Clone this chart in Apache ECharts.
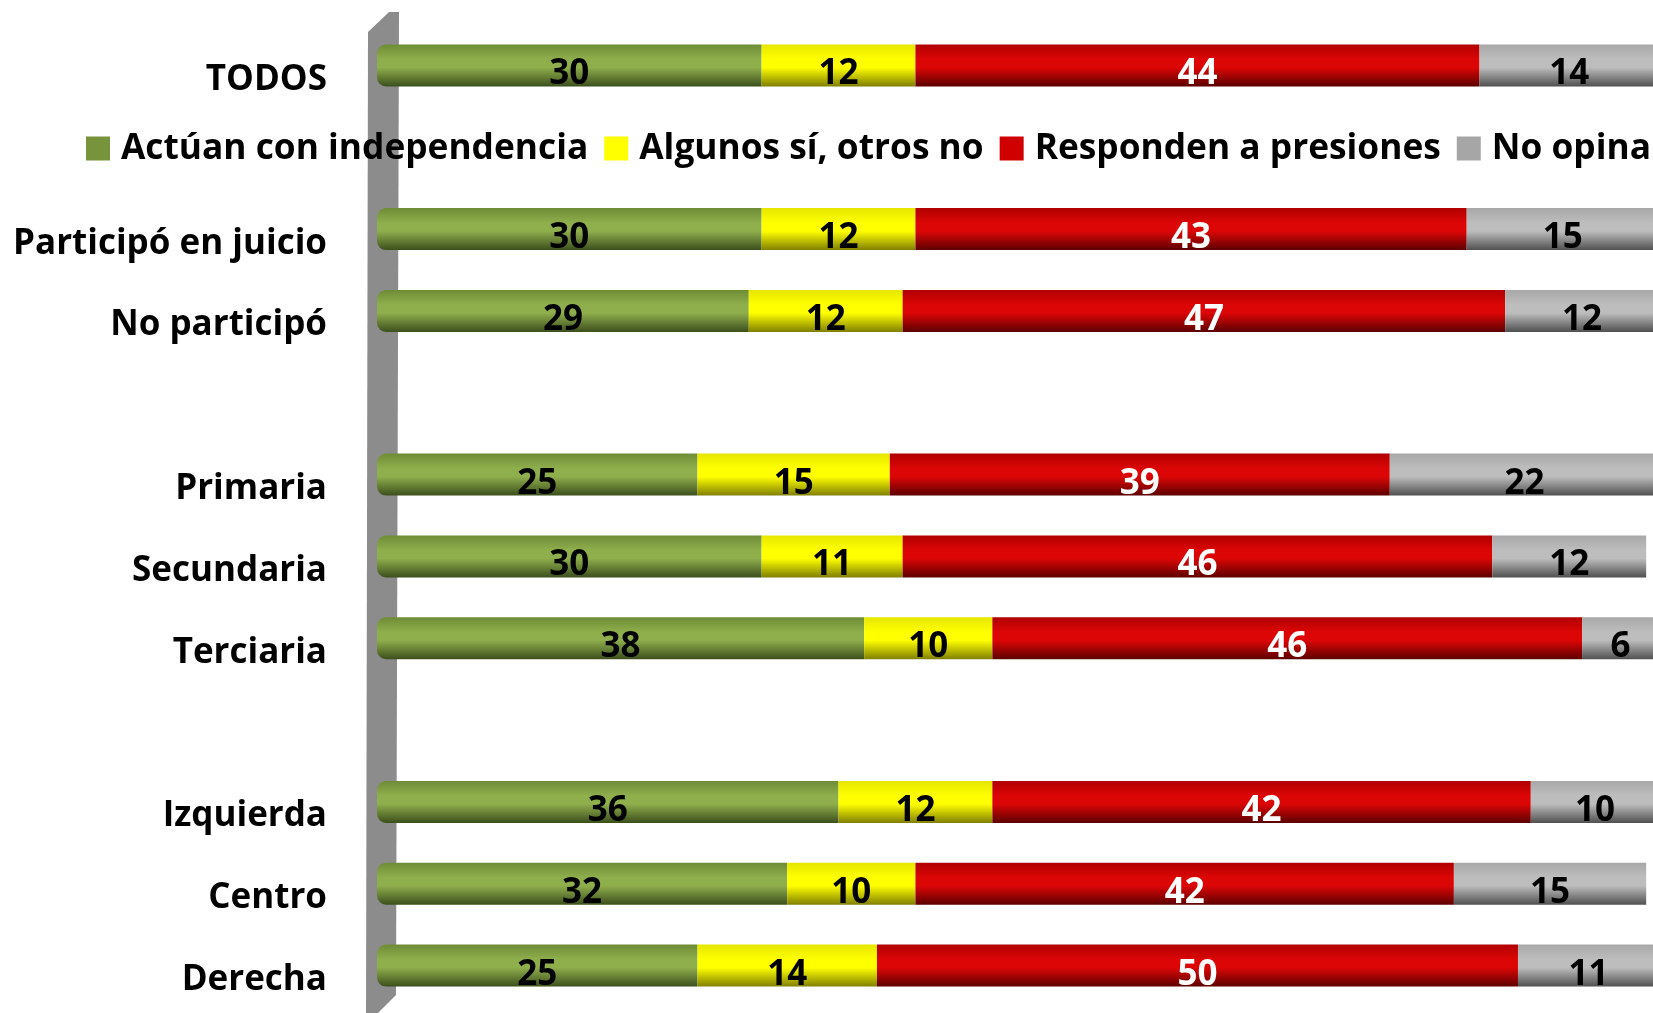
<!DOCTYPE html>
<html><head><meta charset="utf-8">
<script src="https://cdn.jsdelivr.net/npm/echarts@6/dist/echarts.min.js"></script>
<style>html,body{margin:0;padding:0;background:#fff}#c{width:1653px;height:1013px}</style>
</head><body><div id="c"></div>
<script>
const categories = ['TODOS','','Participó en juicio','No participó','','Primaria','Secundaria','Terciaria','','Izquierda','Centro','Derecha'];
const seriesNames = ['Actúan con independencia','Algunos sí, otros no','Responden a presiones','No opina'];
const independencia = [30,null,30,29,null,25,30,38,null,36,32,25];
const algunos       = [12,null,12,12,null,15,11,10,null,12,10,14];
const presiones     = [44,null,43,47,null,39,46,46,null,42,42,50];
const noOpina       = [14,null,15,12,null,22,12,6,null,10,15,11];

function grad(top, mid, bot){
  return new echarts.graphic.LinearGradient(0,0,0,1,[
    {offset:0,color:top},{offset:0.35,color:mid},{offset:0.55,color:mid},{offset:1,color:bot}]);
}
const styles = [
  {fill:grad('#6e8c36','#8fae4c','#3c4f1d'), legend:'#77933c', label:'#000'},
  {fill:grad('#e6e600','#ffff00','#808000'), legend:'#ffff00', label:'#000'},
  {fill:grad('#b00000','#dc0606','#5c0000'), legend:'#d00000', label:'#fff'},
  {fill:grad('#a8a8a8','#bdbdbd','#505050'), legend:'#a6a6a6', label:'#000'}
];
const dataSets = [independencia, algunos, presiones, noOpina];
const FONT = 'Open Sans';

const chart = echarts.init(document.getElementById('c'));
chart.setOption({
  animation:false,
  backgroundColor:'#fff',
  graphic:[{type:'polygon', z:-10, shape:{points:[[368,32],[389,12],[399,12],[396,995],[378,1013],[366,1013]]}, style:{fill:'#8c8c8c'}}],
  legend:{
    left:81, top:126, width:1640, itemWidth:24, itemHeight:24, itemGap:16,
    textStyle:{fontFamily:FONT, fontWeight:'bold', fontSize:35.3, color:'#000', padding:[0,0,0,6]},
    data: seriesNames.map((n,i)=>({name:n, icon:'rect', itemStyle:{color:styles[i].legend}}))
  },
  grid:{left:377, top:24.5, width:1282, bottom:6.5, containLabel:false, outerBoundsMode:'none'},
  xAxis:{type:'value', min:0, max:100, show:false},
  yAxis:{type:'category', inverse:true, data:categories,
    axisLine:{show:false}, axisTick:{show:false}, splitLine:{show:false},
    axisLabel:{margin:50, fontFamily:FONT, fontWeight:'bold', fontSize:35, color:'#000', verticalAlign:'top', lineHeight:29}},
  series: seriesNames.map((n,i)=>({
    name:n, type:'bar', stack:'t', barWidth:42, data:dataSets[i],
    itemStyle:{color:styles[i].fill, borderRadius: i===0?[9,0,0,9]:0},
    label:{show:true, position:'inside', color:styles[i].label, fontFamily:FONT, fontWeight:'bold', fontSize:35, offset:[0,9]}
  }))
});
</script></body></html>
